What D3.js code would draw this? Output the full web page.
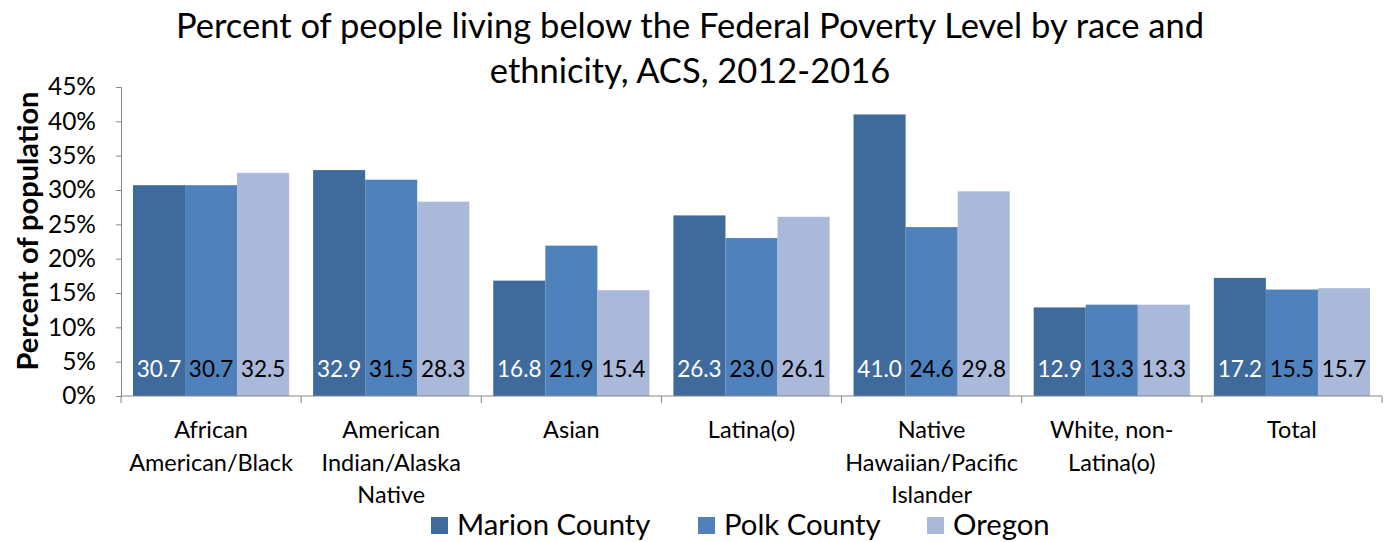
<!DOCTYPE html>
<html>
<head>
<meta charset="utf-8">
<script src="https://cdn.jsdelivr.net/npm/d3@7"></script>
<style>
  body { margin: 0; background: #fff; }
  text { font-family: Lato, "Open Sans", sans-serif; fill: #000; }
</style>
</head>
<body>
<script>
// data
let categories = [
    ["African", "American/Black"],
    ["American", "Indian/Alaska", "Native"],
    ["Asian"],
    ["Latina(o)"],
    ["Native", "Hawaiian/Pacific", "Islander"],
    ["White, non-", "Latina(o)"],
    ["Total"]
];
let seriesNames = ["Marion County", "Polk County", "Oregon"];
let marion = [30.7, 32.9, 16.8, 26.3, 41.0, 12.9, 17.2];
let polk = [30.7, 31.5, 21.9, 23.0, 24.6, 13.3, 15.5];
let oregon = [32.5, 28.3, 15.4, 26.1, 29.8, 13.3, 15.7];
let yTicks = [0, 5, 10, 15, 20, 25, 30, 35, 40, 45];

let colors = ["#3f6a9c", "#4f81bd", "#aab9d9"];
let labelColors = ["#fff", "#000", "#000"];
let series = [marion, polk, oregon];

let width = 1392,
    height = 542;

let svg = d3.select("body")
    .append("svg")
    .attr("width", width)
    .attr("height", height);

let x = d3.scaleBand()
    .domain(d3.range(categories.length))
    .range([121, 1382]);

let xs = d3.scaleBand()
    .domain(d3.range(series.length))
    .range([0, x.bandwidth()])
    .paddingOuter(0.23);

let y = d3.scaleLinear()
    .domain([0, 45])
    .range([396, 87]);

// title
svg.append("text")
    .attr("x", 690)
    .attr("y", 38)
    .attr("text-anchor", "middle")
    .style("font-size", "34.5px")
    .text("Percent of people living below the Federal Poverty Level by race and");
svg.append("text")
    .attr("x", 690)
    .attr("y", 83)
    .attr("text-anchor", "middle")
    .style("font-size", "34.5px")
    .text("ethnicity, ACS, 2012-2016");

// y axis title
svg.append("text")
    .attr("transform", "translate(38,231) rotate(-90)")
    .attr("text-anchor", "middle")
    .style("font-size", "29px")
    .style("font-weight", "bold")
    .text("Percent of population");

// bars
series.forEach(function(values, s) {
    let g = svg.append("g");
    g.selectAll("rect")
        .data(values)
        .enter()
        .append("rect")
        .attr("x", function(d, i) { return x(i) + xs(s); })
        .attr("width", xs.bandwidth())
        .attr("y", function(d) { return y(d); })
        .attr("height", function(d) { return y(0) - y(d); })
        .attr("fill", colors[s]);
    g.selectAll("text")
        .data(values)
        .enter()
        .append("text")
        .attr("x", function(d, i) { return x(i) + xs(s) + xs.bandwidth() / 2; })
        .attr("y", 377)
        .attr("text-anchor", "middle")
        .style("font-size", "22.5px")
        .style("fill", labelColors[s])
        .text(function(d) { return d.toFixed(1); });
});

// y axis
let yAxis = svg.append("g")
    .attr("transform", "translate(121,0)")
    .call(d3.axisLeft(y)
        .tickValues(yTicks)
        .tickSize(5)
        .tickPadding(20)
        .tickFormat(function(d) { return d + "%"; }));
yAxis.select(".domain").attr("stroke", "#868686");
yAxis.selectAll(".tick line").attr("stroke", "#868686");
yAxis.selectAll(".tick text")
    .style("font-size", "24.5px")
    .style("font-family", "Lato, sans-serif")
    .attr("fill", "#000");

// x axis
let xAxis = svg.append("g");
xAxis.append("line")
    .attr("x1", 121).attr("x2", 1382)
    .attr("y1", y(0)).attr("y2", y(0))
    .attr("stroke", "#868686");
xAxis.selectAll(".xt")
    .data(d3.range(categories.length + 1))
    .enter()
    .append("line")
    .attr("x1", function(d) { return 121 + d * x.step(); })
    .attr("x2", function(d) { return 121 + d * x.step(); })
    .attr("y1", y(0))
    .attr("y2", y(0) + 7)
    .attr("stroke", "#868686");

let catLabels = svg.selectAll(".cat")
    .data(categories)
    .enter()
    .append("text")
    .attr("text-anchor", "middle")
    .style("font-size", "23.5px");
catLabels.each(function(lines, i) {
    d3.select(this).selectAll("tspan")
        .data(lines)
        .enter()
        .append("tspan")
        .attr("x", x(i) + x.bandwidth() / 2)
        .attr("y", function(d, j) { return 438 + j * 32.5; })
        .text(function(d) { return d; });
});

// legend
let legendX = [431, 698, 927];
let legend = svg.selectAll(".leg")
    .data(seriesNames)
    .enter()
    .append("g")
    .attr("transform", function(d, i) { return "translate(" + legendX[i] + ",517)"; });
legend.append("rect")
    .attr("width", 17)
    .attr("height", 17)
    .attr("fill", function(d, i) { return colors[i]; });
legend.append("text")
    .attr("x", 26)
    .attr("y", 18)
    .style("font-size", "29.3px")
    .text(function(d) { return d; });
</script>
</body>
</html>
